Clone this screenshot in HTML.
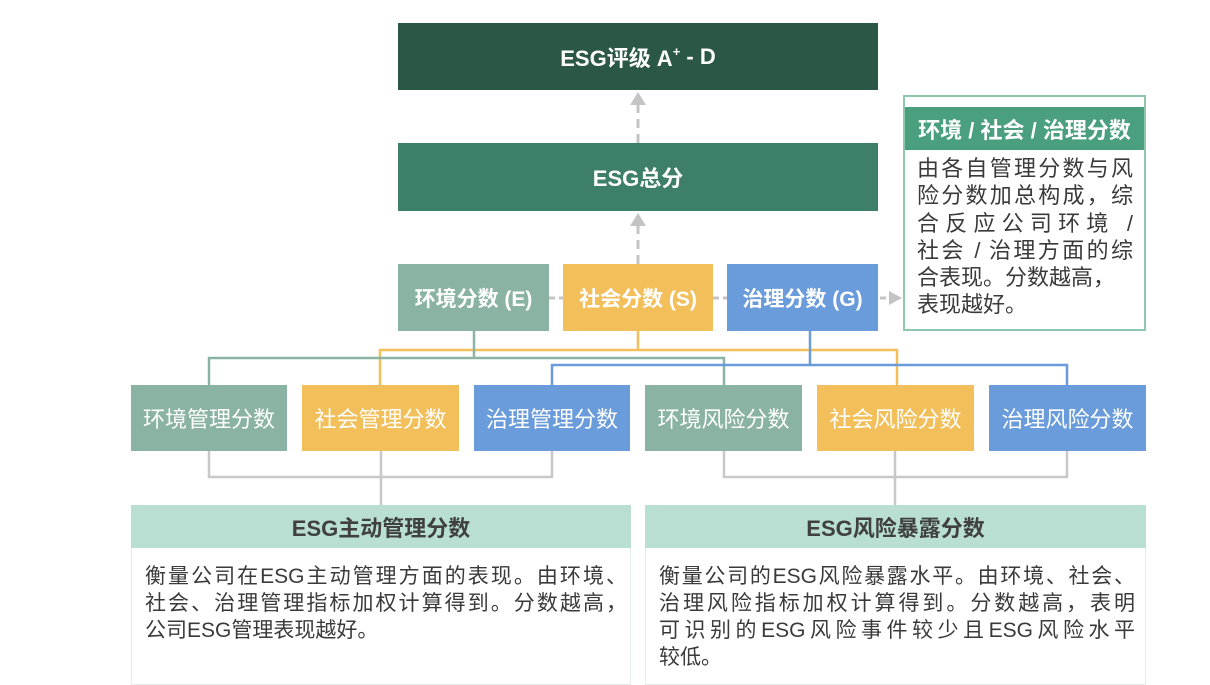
<!DOCTYPE html>
<html><head><meta charset="utf-8">
<style>
*{margin:0;padding:0;box-sizing:border-box}
body{width:1210px;height:680px;background:#fff;position:relative;overflow:hidden;font-family:"Liberation Sans","Noto Sans CJK SC",sans-serif}
.b{position:absolute;display:flex;align-items:center;justify-content:center;color:#fff}
.bold{font-weight:bold}
.l{position:absolute}
.t{position:absolute;font-size:21px;color:#3a3a3a;line-height:27px;white-space:nowrap}
.j{text-align:justify;text-align-last:justify;white-space:normal}
</style></head><body>
<div class="b bold" style="left:398px;top:23px;width:480px;height:67px;background:#2b5747;font-size:22px">ESG评级 A<span style="font-size:13px;position:relative;top:-5px">+</span>&nbsp;- D</div>
<div class="b bold" style="left:398px;top:143px;width:480px;height:68px;background:#3d7f69;font-size:22px">ESG总分</div>

<svg class="l" style="left:0;top:0" width="1210" height="680">
<g stroke="#c4c4c4" stroke-width="3" fill="none" stroke-dasharray="9,6">
<line x1="638" y1="143" x2="638" y2="104"/>
<line x1="638" y1="264" x2="638" y2="224"/>
<line x1="549" y1="298" x2="563" y2="298" stroke-dasharray="6,4"/>
<line x1="713" y1="298" x2="727" y2="298" stroke-dasharray="6,4"/>
<line x1="880" y1="298" x2="890" y2="298" stroke-dasharray="6,4"/>
</g>
<g fill="#c4c4c4">
<polygon points="630,105 646,105 638,92"/>
<polygon points="630,226 646,226 638,213"/>
<polygon points="889,291 889,305 902,298"/>
</g>
<g fill="none" stroke-width="2.5">
<polyline stroke="#f2bf5a" points="380,385 380,350 897,350 897,385"/>
<line stroke="#f2bf5a" x1="638" y1="331" x2="638" y2="350"/>
<polyline stroke="#8ab3a4" points="209,385 209,358 724,358 724,385"/>
<line stroke="#8ab3a4" x1="474" y1="331" x2="474" y2="358"/>
<polyline stroke="#6a9bdb" points="552,385 552,365 1067,365 1067,385"/>
<line stroke="#6a9bdb" x1="810" y1="331" x2="810" y2="365"/>
<g stroke="#c8c8c8">
<polyline points="209,451 209,477 552,477 552,451"/>
<line x1="381" y1="451" x2="381" y2="505"/>
<polyline points="724,451 724,477 1067,477 1067,451"/>
<line x1="895" y1="451" x2="895" y2="505"/>
</g>
</g>
</svg>

<div class="b bold" style="left:398px;top:264px;width:151px;height:67px;background:#8ab3a4;font-size:21px">环境分数 (E)</div>
<div class="b bold" style="left:563px;top:264px;width:150px;height:67px;background:#f2bf5a;font-size:21px">社会分数 (S)</div>
<div class="b bold" style="left:727px;top:264px;width:151px;height:67px;background:#6a9bdb;font-size:21px">治理分数 (G)</div>

<div class="l" style="left:903px;top:95px;width:243px;height:236px;border:2px solid #8cc7ae;background:#fff"></div>
<div class="b bold" style="left:905px;top:107px;width:239px;height:43px;background:#4aa07e;font-size:22px;white-space:nowrap">环境 / 社会 / 治理分数</div>
<div class="t" style="left:917px;top:155px;width:216px;font-size:22px;line-height:27.3px">
<div class="j">由各自管理分数与风</div>
<div class="j">险分数加总构成，综</div>
<div class="j">合反应公司环境 /</div>
<div class="j">社会 / 治理方面的综</div>
<div>合表现。分数越高，</div>
<div>表现越好。</div>
</div>

<div class="b" style="left:131px;top:385px;width:156px;height:66px;background:#8ab3a4;font-size:22px">环境管理分数</div>
<div class="b" style="left:302px;top:385px;width:157px;height:66px;background:#f2bf5a;font-size:22px">社会管理分数</div>
<div class="b" style="left:474px;top:385px;width:156px;height:66px;background:#6a9bdb;font-size:22px">治理管理分数</div>
<div class="b" style="left:645px;top:385px;width:157px;height:66px;background:#8ab3a4;font-size:22px">环境风险分数</div>
<div class="b" style="left:817px;top:385px;width:157px;height:66px;background:#f2bf5a;font-size:22px">社会风险分数</div>
<div class="b" style="left:989px;top:385px;width:157px;height:66px;background:#6a9bdb;font-size:22px">治理风险分数</div>

<div class="l" style="left:131px;top:505px;width:500px;height:180px;border:1px solid #e6ecea;background:#fff"></div>
<div class="b bold" style="left:131px;top:505px;width:500px;height:43px;background:#b8dfd2;color:#404040;font-size:22px">ESG主动管理分数</div>
<div class="t" style="left:145px;top:563px;width:482px">
<div class="j">衡量公司在ESG主动管理方面的表现。由环境、</div>
<div class="j">社会、治理管理指标加权计算得到。分数越高，</div>
<div>公司ESG管理表现越好。</div>
</div>

<div class="l" style="left:645px;top:505px;width:501px;height:180px;border:1px solid #e6ecea;background:#fff"></div>
<div class="b bold" style="left:645px;top:505px;width:501px;height:43px;background:#b8dfd2;color:#404040;font-size:22px">ESG风险暴露分数</div>
<div class="t" style="left:659px;top:563px;width:476px">
<div class="j">衡量公司的ESG风险暴露水平。由环境、社会、</div>
<div class="j">治理风险指标加权计算得到。分数越高，表明</div>
<div class="j">可识别的ESG风险事件较少且ESG风险水平</div>
<div>较低。</div>
</div>
</body></html>
